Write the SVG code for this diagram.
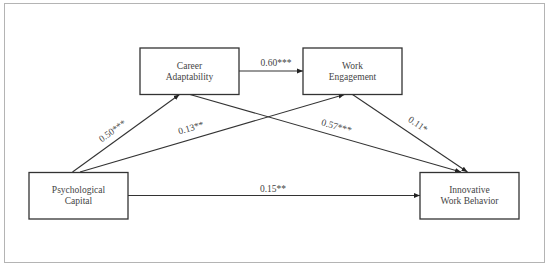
<svg xmlns="http://www.w3.org/2000/svg" width="550" height="268" viewBox="0 0 550 268">
<style>
.frame{fill:#fff;stroke:#b4b4b4;stroke-width:1}
.box{fill:#fff;stroke:#333;stroke-width:1.3}
.lbl{font-family:"Liberation Serif","Times New Roman",serif;font-size:9.5px;fill:#444;text-anchor:middle}
.edge{stroke:#333;stroke-width:1.1;fill:none;marker-end:url(#ah)}
</style>
<defs>
<marker id="ah" markerUnits="userSpaceOnUse" markerWidth="7" markerHeight="6" refX="6" refY="3" orient="auto">
<path d="M0,0.6 L6,3 L0,5.4 Z" fill="#222"/>
</marker>
</defs>
<rect class="frame" x="4.5" y="3.5" width="540" height="259"/>
<g id="connectors">
<line class="edge" x1="239" y1="71" x2="303" y2="71"/>
<line class="edge" x1="72.5" y1="172" x2="179.5" y2="94.5"/>
<line class="edge" x1="80" y1="172" x2="344.5" y2="94.5"/>
<line class="edge" x1="190" y1="94.5" x2="461" y2="172"/>
<line class="edge" x1="352.5" y1="94.5" x2="467.5" y2="172"/>
<line class="edge" x1="128" y1="195.5" x2="420" y2="195.5"/>
<text class="lbl" x="276" y="66">0.60***</text>
<text class="lbl" x="273" y="192">0.15**</text>
<text class="lbl" x="112.5" y="134" transform="rotate(-35.9 112.5 131)">0.50***</text>
<text class="lbl" x="191" y="131" transform="rotate(-16.4 191 128)">0.13**</text>
<text class="lbl" x="336.5" y="129.5" transform="rotate(16.1 336.5 126.5)">0.57***</text>
<text class="lbl" x="418" y="127.5" transform="rotate(34.2 418 124.5)">0.11*</text>
</g>
<g id="career">
<rect class="box" x="140" y="48" width="99" height="46.5"/>
<text class="lbl" x="189.5" y="68.5">Career</text>
<text class="lbl" x="189.5" y="79.5">Adaptability</text>
</g>
<g id="work">
<rect class="box" x="303" y="48" width="99" height="46.5"/>
<text class="lbl" x="352.5" y="68.5">Work</text>
<text class="lbl" x="352.5" y="79.5">Engagement</text>
</g>
<g id="psych">
<rect class="box" x="29" y="172.5" width="99" height="46.5"/>
<text class="lbl" x="78.5" y="193">Psychological</text>
<text class="lbl" x="78.5" y="204">Capital</text>
</g>
<g id="iwb">
<rect class="box" x="420" y="172.5" width="99" height="46.5"/>
<text class="lbl" x="469.5" y="193">Innovative</text>
<text class="lbl" x="469.5" y="204">Work Behavior</text>
</g>
</svg>
